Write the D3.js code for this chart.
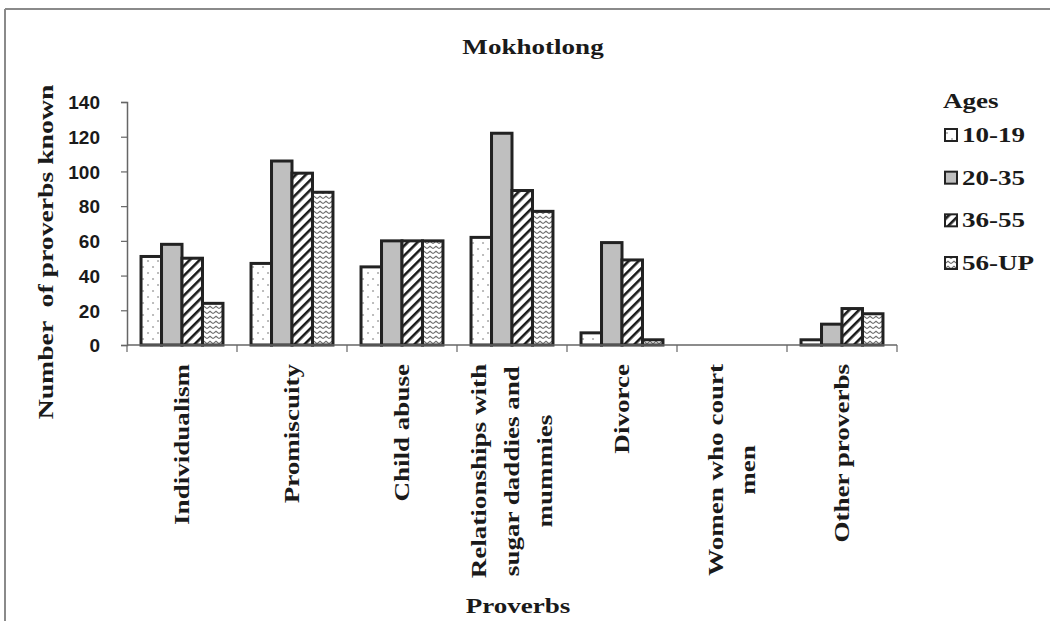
<!DOCTYPE html>
<html>
<head>
<meta charset="utf-8">
<script src="https://cdn.jsdelivr.net/npm/d3@7"></script>
<style>
  html, body { margin: 0; padding: 0; background: #fff; }
  svg { display: block; }
  .serif { font-family: "Liberation Serif", "DejaVu Serif", serif; font-weight: bold; fill: #1a1a1a; }
  .tick-label { font-family: "Liberation Sans", Arial, sans-serif; font-weight: bold; fill: #1a1a1a; }
</style>
</head>
<body>
<script>
// Proverb categories (x axis) — multi-line labels use "\n"
const categories = [
  "Individualism",
  "Promiscuity",
  "Child abuse",
  "Relationships with\nsugar daddies and\nmummies",
  "Divorce",
  "Women who court\nmen",
  "Other proverbs"
];

// Age groups (legend)
const ages = ["10-19", "20-35", "36-55", "56-UP"];

// Number of proverbs known, one array per age group
const age10_19 = [51, 47, 45, 62, 7, 0, 3];
const age20_35 = [58, 106, 60, 122, 59, 0, 12];
const age36_55 = [50, 99, 60, 89, 49, 0, 21];
const age56_up = [24, 88, 60, 77, 3, 0, 18];

const yTicks = [0, 20, 40, 60, 80, 100, 120, 140];

const chartTitle = "Mokhotlong";
const yTitle = "Number  of proverbs known";
const xTitle = "Proverbs";
const legendTitle = "Ages";

const seriesValues = [age10_19, age20_35, age36_55, age56_up];

const W = 1050, H = 621;
const plot = { left: 127, right: 897, top: 102, bottom: 345 };
const stretch = 1.23; // horizontal widening of the serif lettering

const svg = d3.select("body").append("svg")
  .attr("width", W).attr("height", H);

// ---- fill patterns for the four age groups ----
const defs = svg.append("defs");

const dots = defs.append("pattern")
  .attr("id", "pat-dots").attr("patternUnits", "userSpaceOnUse")
  .attr("width", 10).attr("height", 12);
dots.append("rect").attr("width", 10).attr("height", 12).attr("fill", "#fff");
dots.append("circle").attr("cx", 2).attr("cy", 3).attr("r", 0.8).attr("fill", "#666");
dots.append("circle").attr("cx", 7).attr("cy", 9).attr("r", 0.8).attr("fill", "#666");

const gray = defs.append("pattern")
  .attr("id", "pat-gray").attr("patternUnits", "userSpaceOnUse")
  .attr("width", 6).attr("height", 6);
gray.append("rect").attr("width", 6).attr("height", 6).attr("fill", "#bfbfbf");

const stripes = defs.append("pattern")
  .attr("id", "pat-stripes").attr("patternUnits", "userSpaceOnUse")
  .attr("width", 7).attr("height", 7)
  .attr("patternTransform", "rotate(45)");
stripes.append("rect").attr("width", 7).attr("height", 7).attr("fill", "#fff");
stripes.append("rect").attr("width", 2.6).attr("height", 7).attr("fill", "#1a1a1a");

const zig = defs.append("pattern")
  .attr("id", "pat-zig").attr("patternUnits", "userSpaceOnUse")
  .attr("width", 6).attr("height", 5);
zig.append("rect").attr("width", 6).attr("height", 5).attr("fill", "#fff");
zig.append("path").attr("d", "M0,3.6 L3,1.2 L6,3.6")
  .attr("fill", "none").attr("stroke", "#6a6a6a").attr("stroke-width", 1.1);

const fills = d3.scaleOrdinal()
  .domain(ages)
  .range(["url(#pat-dots)", "url(#pat-gray)", "url(#pat-stripes)", "url(#pat-zig)"]);

// ---- outer frame (top and left edges) ----
svg.append("line").attr("x1", 5).attr("x2", W).attr("y1", 9).attr("y2", 9)
  .attr("stroke", "#8a8a8a").attr("stroke-width", 2);
svg.append("line").attr("x1", 5).attr("x2", 5).attr("y1", 9).attr("y2", H)
  .attr("stroke", "#8a8a8a").attr("stroke-width", 2);

// ---- scales ----
const x0 = d3.scaleBand()
  .domain(categories)
  .range([plot.left, plot.right])
  .paddingInner(0.255)
  .paddingOuter(0.1275);

const x1 = d3.scaleBand()
  .domain(ages)
  .range([0, x0.bandwidth()]);

const y = d3.scaleLinear()
  .domain([0, 140])
  .range([plot.bottom, plot.top]);

// ---- y axis ----
const yAxis = svg.append("g")
  .attr("transform", `translate(${plot.left},0)`)
  .call(d3.axisLeft(y).tickValues(yTicks).tickSize(6).tickFormat(d3.format("d")));
yAxis.select(".domain").attr("stroke", "#666").attr("stroke-width", 1.5);
yAxis.selectAll(".tick line").attr("stroke", "#666").attr("stroke-width", 1.2);
yAxis.selectAll(".tick text")
  .attr("class", "tick-label")
  .attr("x", -27)
  .attr("font-size", 19)
  .attr("dy", "0.36em");

// ---- bars ----
const rows = categories.map((c, i) => ({
  category: c,
  values: ages.map((a, j) => ({ age: a, value: seriesValues[j][i] }))
}));

const groups = svg.append("g").selectAll("g")
  .data(rows)
  .join("g")
  .attr("transform", d => `translate(${x0(d.category)},0)`);

groups.selectAll("rect")
  .data(d => d.values.filter(v => v.value > 0))
  .join("rect")
  .attr("x", d => x1(d.age))
  .attr("y", d => y(d.value))
  .attr("width", x1.bandwidth())
  .attr("height", d => y(0) - y(d.value))
  .attr("fill", d => fills(d.age))
  .attr("stroke", "#222")
  .attr("stroke-width", 3);

// ---- x axis (category boundary ticks) ----
const xAxisG = svg.append("g");
xAxisG.append("line")
  .attr("x1", plot.left).attr("x2", plot.right)
  .attr("y1", y(0)).attr("y2", y(0))
  .attr("stroke", "#666").attr("stroke-width", 1.5);
const boundaries = categories.map(c => x0(c) - x0.step() * x0.paddingInner() / 2)
  .concat([plot.right]);
xAxisG.selectAll("line.bound")
  .data(boundaries)
  .join("line")
  .attr("class", "bound")
  .attr("x1", d => d).attr("x2", d => d)
  .attr("y1", y(0)).attr("y2", y(0) + 7)
  .attr("stroke", "#666").attr("stroke-width", 1.2);

// ---- category labels, rotated; wrapped lines are centred on each other ----
const lineGap = 33;
const catLabels = svg.append("g").selectAll("g")
  .data(categories)
  .join("g")
  .attr("transform", d => `translate(${x0(d) + x0.bandwidth() / 2},364) rotate(-90) scale(${stretch},1)`);

catLabels.each(function(d) {
  const lines = d.split("\n");
  const t = d3.select(this).append("text")
    .attr("class", "serif")
    .attr("font-size", 22)
    .attr("text-anchor", "middle");
  const spans = lines.map((ln, k) => t.append("tspan")
    .attr("y", (k - (lines.length - 1) / 2) * lineGap + 7)
    .text(ln));
  const longest = d3.max(spans, s => s.node().getComputedTextLength());
  spans.forEach(s => s.attr("x", -longest / 2));
});

// ---- titles ----
svg.append("g")
  .attr("transform", `translate(533,54) scale(${stretch},1)`)
  .append("text").attr("class", "serif").attr("font-size", 22)
  .attr("text-anchor", "middle").text(chartTitle);

svg.append("g")
  .attr("transform", `translate(53,252) rotate(-90) scale(1.26,1)`)
  .append("text").attr("class", "serif").attr("font-size", 22)
  .attr("text-anchor", "middle").attr("xml:space", "preserve")
  .style("white-space", "pre")
  .text(yTitle);

svg.append("g")
  .attr("transform", `translate(518,613) scale(${stretch},1)`)
  .append("text").attr("class", "serif").attr("font-size", 22)
  .attr("text-anchor", "middle").text(xTitle);

// ---- legend ----
const legend = svg.append("g");
legend.append("g")
  .attr("transform", `translate(943,108) scale(${stretch},1)`)
  .append("text").attr("class", "serif").attr("font-size", 22).text(legendTitle);

const legendY = d3.scalePoint().domain(ages).range([142, 270]);
const items = legend.selectAll("g.item")
  .data(ages)
  .join("g")
  .attr("class", "item")
  .attr("transform", d => `translate(945,${legendY(d)})`);
items.append("rect")
  .attr("x", 0).attr("y", -13).attr("width", 12).attr("height", 12)
  .attr("fill", d => fills(d))
  .attr("stroke", "#222").attr("stroke-width", 2);
items.append("g")
  .attr("transform", `translate(17,0) scale(${stretch},1)`)
  .append("text").attr("class", "serif").attr("font-size", 22)
  .text(d => d);
</script>
</body>
</html>
